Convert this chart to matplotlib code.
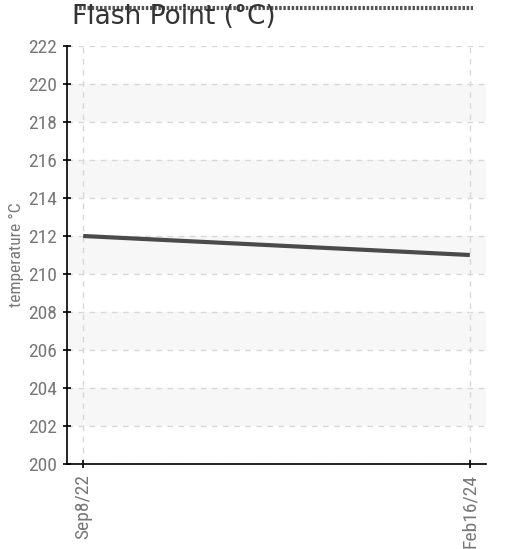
import numpy as np
import matplotlib.pyplot as plt
import matplotlib.dates as mdates
from matplotlib.lines import Line2D
from datetime import datetime

# Data
dates = [datetime(2022, 9, 8), datetime(2024, 2, 16)]
date_labels = ["Sep8/22", "Feb16/24"]
temps = [212, 211]
y_ticks = list(range(200, 223, 2))

cond = ['Roboto Condensed', 'DejaVu Sans']

fig = plt.figure(figsize=(5.12, 5.49), dpi=100)
ax = fig.add_axes([67 / 512, 1 - 464 / 549, 419 / 512, 418 / 549])

# alternating bands
for lo in range(202, 222, 4):
    ax.axhspan(lo, lo + 2, color='#f7f7f7', zorder=0, lw=0)

ax.plot(dates, temps, color='#4a4a4a', lw=3, solid_capstyle='butt', zorder=3)

ax.set_ylim(200, 222)
ax.set_yticks(y_ticks)
ax.set_xticks(dates)
ax.set_xticklabels(date_labels, rotation=90, family=cond, stretch='condensed',
                   fontsize=14, color='#777777')
pad = 22
ax.set_xlim(mdates.date2num(dates[0]) - pad, mdates.date2num(dates[1]) + pad)
for lab in ax.get_yticklabels():
    lab.set_family(cond)
    lab.set_stretch('condensed')
    lab.set_fontsize(14)
    lab.set_color('#777777')

ax.grid(True, ls=(0, (4, 4)), color='#d8d8d8', lw=1)
ax.set_axisbelow(True)
for s in ['top', 'right']:
    ax.spines[s].set_visible(False)
ax.spines['left'].set_linewidth(1.2)
ax.spines['bottom'].set_linewidth(1.2)
ax.tick_params(direction='inout', length=6, width=1.2, pad=4)

ax.set_ylabel("temperature °C", family=cond, stretch='condensed', fontsize=12.5,
              color='#777777', labelpad=3)

# title and dotted line above
fig.text(72 / 512, 1 - 17 / 549, "Flash Point (°C)", fontsize=19, color='#333333',
         va='center', ha='left')
fig.add_artist(Line2D([75 / 512, 473 / 512], [1 - 8 / 549, 1 - 8 / 549],
                      transform=fig.transFigure, color='#555555', lw=3, ls=(0, (0.6, 0.4))))

fig.savefig("out.png", dpi=100)
